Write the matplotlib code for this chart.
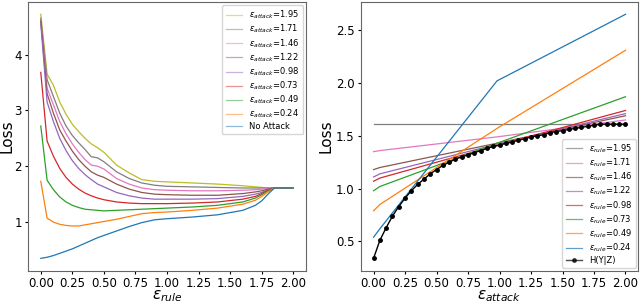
import matplotlib
matplotlib.use("Agg")
import matplotlib.pyplot as plt

# left panel: loss vs eps_rule, one curve per attack strength
eps_rule = [0, 0.05, 0.1, 0.15, 0.2, 0.25, 0.3, 0.35, 0.4, 0.45, 0.5, 0.6, 0.7,
            0.8, 0.9, 1.0, 1.2, 1.4, 1.6, 1.7, 1.75, 1.8, 1.85, 1.9, 2.0]

loss_att_195 = [4.72, 3.65, 3.45, 3.15, 2.93, 2.75, 2.62, 2.50, 2.40, 2.33, 2.25, 2.02, 1.88,
                1.76, 1.73, 1.72, 1.70, 1.68, 1.65, 1.63, 1.62, 1.61, 1.61, 1.61, 1.61]
loss_att_171 = [4.65, 3.55, 3.25, 2.95, 2.72, 2.55, 2.42, 2.30, 2.17, 2.15, 2.08, 1.90, 1.78,
                1.70, 1.66, 1.64, 1.63, 1.62, 1.61, 1.61, 1.61, 1.61, 1.61, 1.61, 1.61]
loss_att_146 = [4.62, 3.40, 3.10, 2.80, 2.58, 2.40, 2.25, 2.12, 2.02, 2.00, 1.95, 1.78, 1.68,
                1.61, 1.58, 1.57, 1.56, 1.56, 1.57, 1.58, 1.59, 1.60, 1.61, 1.61, 1.61]
loss_att_122 = [4.60, 3.30, 2.95, 2.65, 2.45, 2.27, 2.12, 2.00, 1.90, 1.84, 1.80, 1.68, 1.59,
                1.53, 1.50, 1.49, 1.48, 1.48, 1.51, 1.54, 1.56, 1.59, 1.61, 1.61, 1.61]
loss_att_098 = [4.55, 3.15, 2.80, 2.50, 2.28, 2.10, 1.96, 1.85, 1.76, 1.68, 1.63, 1.53, 1.47,
                1.43, 1.41, 1.41, 1.41, 1.42, 1.46, 1.50, 1.53, 1.58, 1.61, 1.61, 1.61]
loss_att_073 = [3.68, 2.45, 2.18, 1.96, 1.80, 1.68, 1.59, 1.52, 1.47, 1.43, 1.40, 1.36, 1.34,
                1.33, 1.33, 1.33, 1.34, 1.36, 1.41, 1.46, 1.51, 1.57, 1.61, 1.61, 1.61]
loss_att_049 = [2.72, 1.75, 1.58, 1.45, 1.36, 1.30, 1.26, 1.23, 1.22, 1.21, 1.20, 1.21, 1.22,
                1.23, 1.24, 1.25, 1.27, 1.30, 1.36, 1.43, 1.49, 1.56, 1.61, 1.61, 1.61]
loss_att_024 = [1.73, 1.07, 1.00, 0.96, 0.94, 0.93, 0.93, 0.95, 0.97, 0.99, 1.01, 1.05, 1.10,
                1.15, 1.17, 1.18, 1.21, 1.25, 1.32, 1.39, 1.46, 1.54, 1.61, 1.61, 1.61]
loss_no_attack = [0.35, 0.37, 0.40, 0.44, 0.48, 0.52, 0.57, 0.62, 0.67, 0.72, 0.76, 0.84, 0.92,
                  0.99, 1.04, 1.06, 1.09, 1.13, 1.21, 1.30, 1.38, 1.50, 1.61, 1.61, 1.61]

left_labels = ["1.95", "1.71", "1.46", "1.22", "0.98", "0.73", "0.49", "0.24"]
left_colors = ["tab:olive", "tab:gray", "tab:pink", "tab:brown",
               "tab:purple", "tab:red", "tab:green", "tab:orange"]

# right panel: loss vs eps_attack, one line per rule strength
eps_attack = [0, 0.05, 0.98, 2.0]
loss_rule_195 = [1.61, 1.61, 1.61, 1.61]
loss_rule_171 = [1.35, 1.36, 1.49, 1.65]
loss_rule_146 = [1.18, 1.20, 1.43, 1.69]
loss_rule_122 = [1.11, 1.14, 1.42, 1.71]
loss_rule_098 = [1.07, 1.10, 1.41, 1.74]
loss_rule_073 = [0.98, 1.02, 1.43, 1.87]
loss_rule_049 = [0.79, 0.85, 1.57, 2.31]
loss_rule_024 = [0.54, 0.62, 2.02, 2.65]

right_labels = ["1.95", "1.71", "1.46", "1.22", "0.98", "0.73", "0.49", "0.24"]
right_colors = ["tab:gray", "tab:pink", "tab:brown", "tab:purple",
                "tab:red", "tab:green", "tab:orange", "tab:blue"]

eps_h = [0, 0.05, 0.1, 0.15, 0.2, 0.25, 0.3, 0.35, 0.4, 0.45, 0.5, 0.55, 0.6, 0.65,
         0.7, 0.75, 0.8, 0.85, 0.9, 0.95, 1.0, 1.05, 1.1, 1.15, 1.2, 1.25, 1.3, 1.35,
         1.4, 1.45, 1.5, 1.55, 1.6, 1.65, 1.7, 1.75, 1.8, 1.85, 1.9, 1.95, 2.0]
h_y_given_z = [0.34, 0.51, 0.63, 0.74, 0.83, 0.91, 0.98, 1.04, 1.09, 1.14, 1.18, 1.22, 1.25, 1.28,
               1.30, 1.32, 1.34, 1.36, 1.38, 1.40, 1.41, 1.43, 1.44, 1.46, 1.47, 1.49, 1.50, 1.51,
               1.53, 1.54, 1.55, 1.56, 1.57, 1.58, 1.59, 1.60, 1.61, 1.61, 1.61, 1.61, 1.61]

fig = plt.figure(figsize=(6.4, 3.04), dpi=100)
ax1 = fig.add_axes([0.044, 0.11, 0.434, 0.883])
ax2 = fig.add_axes([0.564, 0.11, 0.433, 0.883])

left_series = [loss_att_195, loss_att_171, loss_att_146, loss_att_122,
               loss_att_098, loss_att_073, loss_att_049, loss_att_024]
for vals, lab, col in zip(left_series, left_labels, left_colors):
    ax1.plot(eps_rule, vals, color=col, lw=0.9, label=r"$\epsilon_{attack}$=" + lab)
ax1.plot(eps_rule, loss_no_attack, color="tab:blue", lw=0.9, label="No Attack")
ax1.set_xticks([0, 0.25, 0.5, 0.75, 1.0, 1.25, 1.5, 1.75, 2.0])
ax1.set_xlabel(r"$\epsilon_{rule}$", fontsize=11, labelpad=-1)
ax1.set_ylabel("Loss", fontsize=11, labelpad=0)
leg1 = ax1.legend(loc="upper right", fontsize=6, labelspacing=0.2, handlelength=2.0,
                  borderaxespad=0.4)
for h in leg1.get_lines():
    h.set_alpha(0.5)

right_series = [loss_rule_195, loss_rule_171, loss_rule_146, loss_rule_122,
                loss_rule_098, loss_rule_073, loss_rule_049, loss_rule_024]
for vals, lab, col in zip(right_series, right_labels, right_colors):
    ax2.plot(eps_attack, vals, color=col, lw=0.9, label=r"$\epsilon_{rule}$=" + lab)
ax2.plot(eps_h, h_y_given_z, color="black", lw=1.0, marker="o", ms=2.5, label="H(Y|Z)")
ax2.set_xticks([0, 0.25, 0.5, 0.75, 1.0, 1.25, 1.5, 1.75, 2.0])
ax2.set_xlabel(r"$\epsilon_{attack}$", fontsize=11, labelpad=-1)
ax2.set_ylabel("Loss", fontsize=11, labelpad=2)
leg2 = ax2.legend(loc="lower right", fontsize=6, labelspacing=0.2, handlelength=2.0,
                  borderaxespad=0.3)
for h in leg2.get_lines():
    h.set_alpha(0.7)

for ax in (ax1, ax2):
    ax.tick_params(labelsize=8.5, length=2.5, pad=2)
    for sp in ax.spines.values():
        sp.set_color("#666666")

fig.savefig("out.png", dpi=100)
